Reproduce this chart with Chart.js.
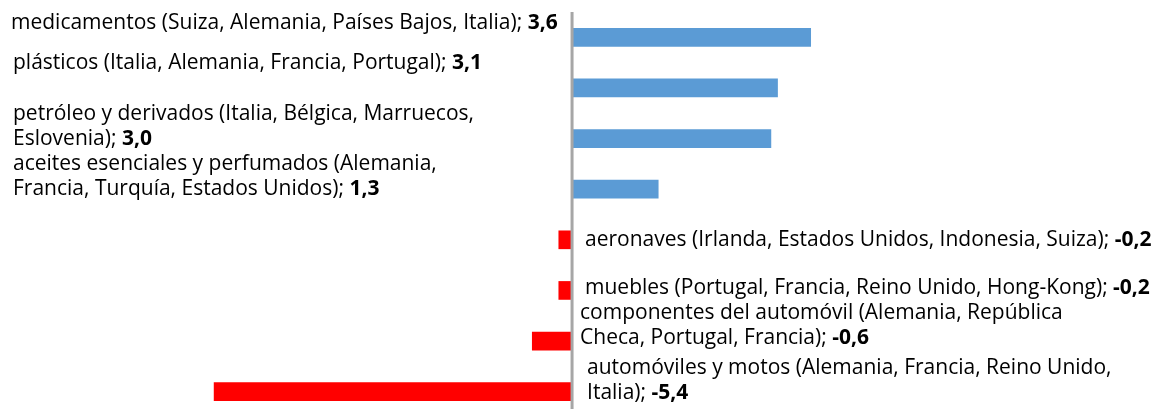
<!DOCTYPE html>
<html>
<head>
<meta charset="utf-8">
<script src="https://cdn.jsdelivr.net/npm/chart.js@4/dist/chart.umd.min.js"></script>
<style>
  html, body { margin: 0; padding: 0; background: #fff; overflow: hidden; }
  .chart-holder { position: relative; width: 1162px; height: 417px; }
</style>
</head>
<body>
<div class="chart-holder"><canvas id="chart"></canvas></div>
<script>
const categories = [
  ['medicamentos (Suiza, Alemania, Países Bajos, Italia);'],
  ['plásticos (Italia, Alemania, Francia, Portugal);'],
  ['petróleo y derivados (Italia, Bélgica, Marruecos,', 'Eslovenia);'],
  ['aceites esenciales y perfumados (Alemania,', 'Francia, Turquía, Estados Unidos);'],
  ['aeronaves (Irlanda, Estados Unidos, Indonesia, Suiza);'],
  ['muebles (Portugal, Francia, Reino Unido, Hong-Kong);'],
  ['componentes del automóvil (Alemania, República', 'Checa, Portugal, Francia);'],
  ['automóviles y motos (Alemania, Francia, Reino Unido,', 'Italia);'],
];
const values = [3.6, 3.1, 3.0, 1.3, -0.2, -0.2, -0.6, -5.4];

// label placement: x offset (from left edge for positives, from zero line for negatives)
// and first baseline relative to the bar centre
const labelLayout = [
  { dx: 11, dy: -8 },
  { dx: 13, dy: -19 },
  { dx: 13, dy: -19 },
  { dx: 13, dy: -19 },
  { dx: 13, dy: 6 },
  { dx: 13, dy: 4 },
  { dx: 8, dy: -22 },
  { dx: 15, dy: -18 },
];

const FONT = '"Open Sans", "Noto Sans", sans-serif';
const FONT_SIZE = 21;
const LINE_HEIGHT = 25;

const formatValue = (v) => v.toFixed(1).replace('.', ',');

const zeroLine = {
  id: 'zeroLine',
  afterDatasetsDraw(chart) {
    const { ctx, chartArea, scales } = chart;
    const x = scales.x.getPixelForValue(0);
    ctx.save();
    ctx.strokeStyle = '#A6A6A6';
    ctx.lineWidth = 3;
    ctx.beginPath();
    ctx.moveTo(x, chartArea.top);
    ctx.lineTo(x, chartArea.bottom);
    ctx.stroke();
    ctx.restore();
  },
};

const barLabels = {
  id: 'barLabels',
  afterDraw(chart) {
    const { ctx, chartArea, scales } = chart;
    const zero = scales.x.getPixelForValue(0);
    const bars = chart.getDatasetMeta(0).data;
    ctx.save();
    ctx.fillStyle = '#000';
    ctx.textBaseline = 'alphabetic';
    ctx.textAlign = 'left';
    bars.forEach((bar, i) => {
      const lines = categories[i];
      const pos = labelLayout[i];
      const x = values[i] >= 0 ? chartArea.left + pos.dx : zero + pos.dx;
      lines.forEach((line, j) => {
        const y = bar.y + pos.dy + j * LINE_HEIGHT;
        ctx.font = `${FONT_SIZE}px ${FONT}`;
        const text = j === lines.length - 1 ? `${line} ` : line;
        ctx.fillText(text, x, y);
        if (j === lines.length - 1) {
          const w = ctx.measureText(text).width;
          ctx.font = `bold ${FONT_SIZE}px ${FONT}`;
          ctx.fillText(formatValue(values[i]), x + w, y);
        }
      });
    });
    ctx.restore();
  },
};

new Chart(document.getElementById('chart'), {
  type: 'bar',
  data: {
    labels: categories,
    datasets: [
      {
        data: values,
        backgroundColor: values.map((v) => (v >= 0 ? '#5B9BD5' : '#FF0000')),
        borderWidth: 0,
        barThickness: 18,
      },
    ],
  },
  options: {
    indexAxis: 'y',
    responsive: true,
    maintainAspectRatio: false,
    animation: false,
    layout: { padding: { top: 12, left: 0, right: 0, bottom: 0 } },
    plugins: {
      legend: { display: false },
      tooltip: { enabled: false },
    },
    scales: {
      x: { display: false, min: -8.63, max: 8.9 },
      y: { display: false },
    },
  },
  plugins: [zeroLine, barLabels],
});
</script>
</body>
</html>
